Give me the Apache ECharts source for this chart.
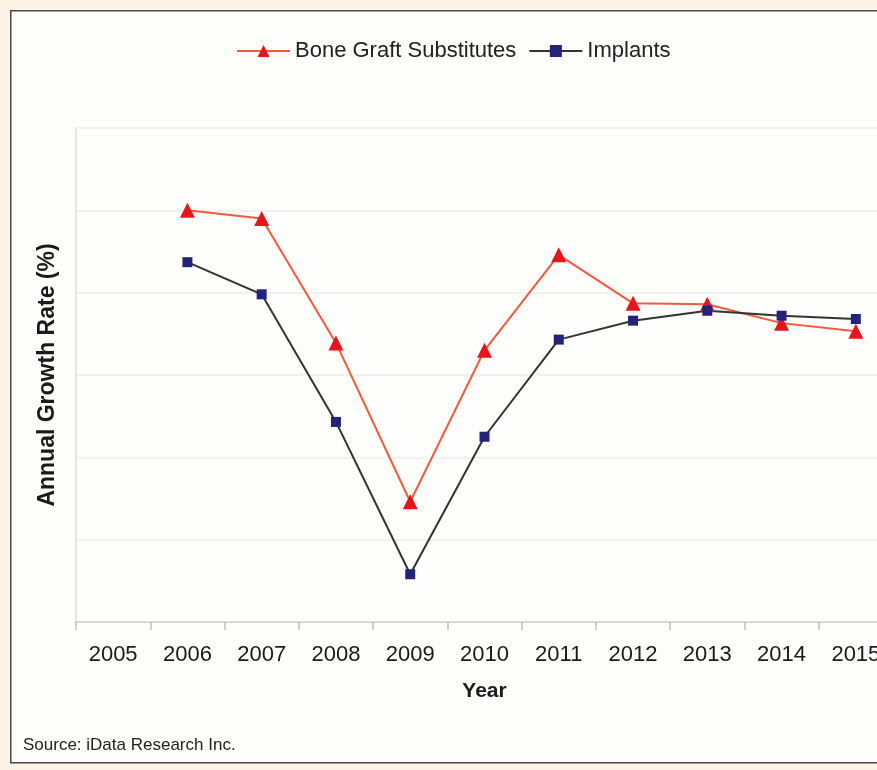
<!DOCTYPE html>
<html lang="en">
<head>
    <meta charset="UTF-8">
    <title>Annual Growth Rate</title>
    <script src="https://cdn.jsdelivr.net/npm/echarts@6/dist/echarts.min.js"></script>
    <style>
        html, body { margin: 0; padding: 0; background: #fdf3e7; }
    </style>
</head>
<body>
<div id="chart" style="width: 877px;height:770px;"></div>
</body>
<script>
    // values (axis has no printed numbers, scale 0-6)
    var years = ['2005', '2006', '2007', '2008', '2009', '2010', '2011', '2012', '2013', '2014', '2015'];
    var boneGraft = [null, 5.00, 4.90, 3.39, 1.46, 3.30, 4.46, 3.87, 3.86, 3.63, 3.53];
    var implants = [null, 4.37, 3.98, 2.43, 0.58, 2.25, 3.43, 3.66, 3.78, 3.72, 3.68];

    var font = 'Liberation Sans, Arial, sans-serif';

    echarts.init(document.getElementById('chart')).setOption({
        backgroundColor: '#fdf3e7',
        animation: false,
        graphic: [
            {
                type: 'rect',
                left: 10, top: 10,
                shape: {width: 900, height: 752},
                style: {fill: '#fdfdfc', stroke: '#4a4a4a', lineWidth: 1.5},
                z: -10
            },
            {
                type: 'text',
                left: 23, top: 737,
                style: {text: 'Source: iData Research Inc.', font: '17px ' + font, fill: '#222'}
            }
        ],
        legend: {
            top: 35,
            left: 231,
            itemWidth: 53,
            itemHeight: 15,
            itemGap: 12,
            textStyle: {fontFamily: font, fontSize: 22, color: '#222'},
            data: ['Bone Graft Substitutes', 'Implants']
        },
        grid: {
            left: 76,
            top: 128,
            bottom: 148,
            width: 817,
            outerBoundsMode: 'none'
        },
        xAxis: {
            type: 'category',
            data: years,
            boundaryGap: true,
            name: 'Year',
            nameLocation: 'middle',
            nameGap: 59,
            nameTextStyle: {fontFamily: font, fontSize: 21, fontWeight: 'bold', color: '#1a1a1a'},
            axisLine: {lineStyle: {color: '#d0d0d0', width: 1.5}},
            axisTick: {show: true, length: 8, lineStyle: {color: '#bdbdbd', width: 1.5}},
            axisLabel: {margin: 22, fontFamily: font, fontSize: 22, color: '#1a1a1a', interval: 0}
        },
        yAxis: {
            type: 'value',
            min: 0,
            max: 6,
            interval: 1,
            name: 'Annual Growth Rate (%)',
            nameLocation: 'middle',
            nameGap: 17,
            nameTextStyle: {fontFamily: font, fontSize: 23, fontWeight: 'bold', color: '#1a1a1a'},
            axisLine: {show: true, lineStyle: {color: '#dcdcdc', width: 1.5}},
            axisTick: {show: false},
            axisLabel: {show: false},
            splitLine: {lineStyle: {color: '#ececec', width: 1.5}}
        },
        series: [
            {
                name: 'Bone Graft Substitutes',
                type: 'line',
                data: boneGraft,
                symbol: 'triangle',
                symbolSize: 15,
                lineStyle: {color: '#f25a3c', width: 2},
                itemStyle: {color: '#e8141b'}
            },
            {
                name: 'Implants',
                type: 'line',
                data: implants,
                symbol: 'rect',
                symbolSize: 10,
                lineStyle: {color: '#333333', width: 2},
                itemStyle: {color: '#23237a'}
            }
        ]
    });
</script>
</html>
